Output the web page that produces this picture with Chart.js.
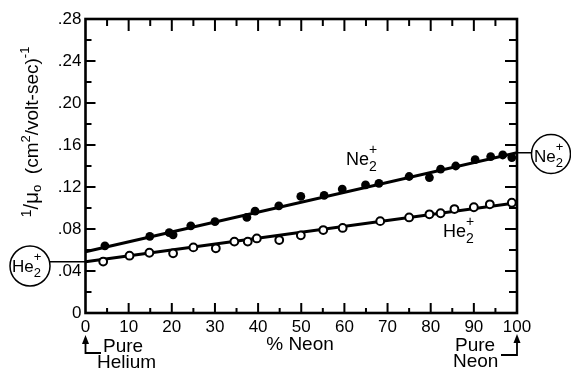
<!DOCTYPE html>
<html lang="en">
<head>
    <meta charset="UTF-8">
    <title>Ion Mobility in He-Ne Mixtures</title>
    <script src="https://cdn.jsdelivr.net/npm/chart.js"></script>
    <style>
        body { margin: 0; background: #fff; }
        #wrap { width: 571px; height: 371px; }
    </style>
</head>
<body>
    <div id="wrap"><canvas id="mobChart" width="571" height="371"></canvas></div>

    <script>
        // Ne2+ (filled points)
        const neX = [4.5, 14.9, 19.4, 20.3, 24.4, 30, 37.4, 39.3, 44.8, 49.9, 55.3, 59.5, 64.9, 68, 75, 79.7, 82.3, 85.8, 90.3, 93.9, 96.7, 98.8];
        const neY = [0.064, 0.073, 0.0765, 0.0745, 0.083, 0.087, 0.091, 0.097, 0.102, 0.111, 0.112, 0.118, 0.122, 0.1235, 0.130, 0.129, 0.137, 0.140, 0.146, 0.149, 0.1505, 0.148];
        // He2+ (open points)
        const heX = [4.1, 10.2, 14.8, 20.3, 25, 30.2, 34.5, 37.6, 39.7, 44.9, 49.9, 55.1, 59.6, 68.3, 75, 79.7, 82.3, 85.5, 90, 93.7, 98.8];
        const heY = [0.049, 0.0546, 0.0574, 0.0568, 0.0625, 0.0616, 0.068, 0.068, 0.071, 0.0695, 0.074, 0.079, 0.081, 0.0875, 0.091, 0.094, 0.095, 0.099, 0.1007, 0.1035, 0.105];
        // fitted straight lines (end points at 0 and 100 % neon)
        const fitX = [0, 100];
        const neFitY = [0.0584, 0.1527];
        const heFitY = [0.0489, 0.105];

        const xTicks = [0, 10, 20, 30, 40, 50, 60, 70, 80, 90, 100];
        const yTicks = [0, 0.04, 0.08, 0.12, 0.16, 0.20, 0.24, 0.28];

        const INK = '#000';
        const FONT = '"Liberation Sans", Arial, sans-serif';

        const pts = (xs, ys) => xs.map((x, i) => ({ x: x, y: ys[i] }));
        const isMajorY = v => yTicks.some(t => Math.abs(t - v) < 1e-6);

        // write an ion symbol like Ne2+ : base, then + above and 2 below
        function ion(ctx, base, x, y, size) {
            ctx.font = size + 'px ' + FONT;
            ctx.textAlign = 'left';
            ctx.textBaseline = 'middle';
            ctx.fillText(base, x, y);
            const w = ctx.measureText(base).width;
            ctx.font = Math.round(size * 0.78) + 'px ' + FONT;
            ctx.fillText('+', x + w, y - size * 0.55);
            ctx.fillText('2', x + w, y + size * 0.4);
        }

        function arrowUp(ctx, x, yTip) {
            ctx.beginPath();
            ctx.moveTo(x, yTip);
            ctx.lineTo(x - 3.5, yTip + 9);
            ctx.lineTo(x + 3.5, yTip + 9);
            ctx.closePath();
            ctx.fill();
        }

        const decor = {
            id: 'decor',
            afterDraw(chart) {
                const ctx = chart.ctx;
                const a = chart.chartArea;
                const xs = chart.scales.x, ys = chart.scales.y;
                ctx.save();
                ctx.strokeStyle = INK;
                ctx.fillStyle = INK;
                ctx.lineCap = 'butt';

                // frame
                ctx.lineWidth = 2.6;
                ctx.strokeRect(a.left, a.top, a.right - a.left, a.bottom - a.top);

                // inward ticks
                ctx.lineWidth = 2;
                ctx.beginPath();
                for (let v = 5; v < 100; v += 5) {
                    const px = xs.getPixelForValue(v);
                    const major = v % 10 === 0;
                    ctx.moveTo(px, a.bottom); ctx.lineTo(px, a.bottom - (major ? 10 : 5));
                    ctx.moveTo(px, a.top); ctx.lineTo(px, a.top + (major ? 12 : 7));
                }
                for (let k = 1; k < 14; k++) {
                    const py = ys.getPixelForValue(k * 0.02);
                    const major = k % 2 === 0;
                    ctx.moveTo(a.left, py); ctx.lineTo(a.left + (major ? 10 : 6), py);
                    ctx.moveTo(a.right, py); ctx.lineTo(a.right - (major ? 12 : 8), py);
                }
                ctx.stroke();

                // y axis title, rotated
                ctx.save();
                ctx.translate(38, 132);
                ctx.rotate(-Math.PI / 2);
                ctx.textBaseline = 'alphabetic';
                const parts = [
                    ['1', 14, -7], ['/', 20, 0], ['\u03bc', 21, 0], ['o', 13, 3],
                    ['  (cm', 19, 0], ['2', 13, -8], ['/volt-sec)', 19, 0], ['-1', 13, -9]
                ];
                let total = 0;
                parts.forEach(p => { ctx.font = p[1] + 'px ' + FONT; total += ctx.measureText(p[0]).width; });
                let cx = -total / 2;
                parts.forEach(p => {
                    ctx.font = p[1] + 'px ' + FONT;
                    ctx.textAlign = 'left';
                    ctx.fillText(p[0], cx, p[2]);
                    cx += ctx.measureText(p[0]).width;
                });
                ctx.restore();

                // series labels
                ion(ctx, 'Ne', 346, 160, 18);
                ion(ctx, 'He', 443, 232, 18);

                // circled end labels with leader lines
                ctx.lineWidth = 1.5;
                const yHe0 = ys.getPixelForValue(heFitY[0]);
                const yNe1 = ys.getPixelForValue(neFitY[1]);
                ctx.beginPath();
                ctx.moveTo(50, yHe0); ctx.lineTo(a.left, yHe0);
                ctx.moveTo(a.right, yNe1); ctx.lineTo(532, yNe1);
                ctx.stroke();
                ctx.beginPath(); ctx.arc(30, 266, 20, 0, Math.PI * 2); ctx.stroke();
                ctx.beginPath(); ctx.arc(551, 154, 19.5, 0, Math.PI * 2); ctx.stroke();
                ion(ctx, 'He', 12, 267, 17);
                ion(ctx, 'Ne', 534, 157, 17);

                // bottom captions
                ctx.font = '19px ' + FONT;
                ctx.textBaseline = 'middle';
                ctx.textAlign = 'center';
                ctx.fillText('% Neon', 300, 345);
                ctx.textAlign = 'left';
                ctx.fillText('Pure', 103, 347);
                ctx.fillText('Helium', 97, 363);
                ctx.fillText('Pure', 455, 346);
                ctx.fillText('Neon', 453, 362);

                const x0 = xs.getPixelForValue(0), x100 = xs.getPixelForValue(100);
                ctx.lineWidth = 1.8;
                ctx.beginPath();
                ctx.moveTo(x0, 340); ctx.lineTo(x0, 353); ctx.lineTo(101, 353);
                ctx.moveTo(x100, 340); ctx.lineTo(x100, 355); ctx.lineTo(501, 355);
                ctx.stroke();
                arrowUp(ctx, x0, 335);
                arrowUp(ctx, x100, 334);

                ctx.restore();
            }
        };

        new Chart(document.getElementById('mobChart').getContext('2d'), {
            type: 'scatter',
            data: {
                datasets: [
                    { label: 'Ne2+', data: pts(neX, neY), backgroundColor: INK, borderColor: INK, pointRadius: 4.4, borderWidth: 0, order: 0 },
                    { label: 'He2+', data: pts(heX, heY), backgroundColor: '#fff', borderColor: INK, pointRadius: 3.9, borderWidth: 2, order: 0 },
                    { type: 'line', label: 'Ne2+ fit', data: pts(fitX, neFitY), borderColor: INK, borderWidth: 3, pointRadius: 0, order: 1 },
                    { type: 'line', label: 'He2+ fit', data: pts(fitX, heFitY), borderColor: INK, borderWidth: 3, pointRadius: 0, order: 1 }
                ]
            },
            options: {
                responsive: false,
                animation: false,
                layout: { padding: { left: 0, right: 54, top: 19, bottom: 0 } },
                plugins: { legend: { display: false }, tooltip: { enabled: false } },
                scales: {
                    x: {
                        type: 'linear', min: 0, max: 100,
                        grid: { display: false, drawTicks: false },
                        border: { display: false },
                        afterFit: s => { s.height = 58; },
                        ticks: {
                            stepSize: 5, autoSkip: false, maxRotation: 0, padding: 4, color: INK,
                            font: { family: FONT, size: 17 },
                            callback: v => (xTicks.includes(v) ? String(v) : '')
                        }
                    },
                    y: {
                        min: 0, max: 0.28,
                        grid: { display: false, drawTicks: false },
                        border: { display: false },
                        afterFit: s => { s.width = 85.5; },
                        ticks: {
                            stepSize: 0.02, autoSkip: false, padding: 4, color: INK,
                            font: { family: FONT, size: 17 },
                            callback: v => {
                                if (!isMajorY(v)) return '';
                                const c = Math.round(v * 100);
                                return c === 0 ? '0' : '.' + String(c).padStart(2, '0');
                            }
                        }
                    }
                }
            },
            plugins: [decor]
        });
    </script>
</body>
</html>
